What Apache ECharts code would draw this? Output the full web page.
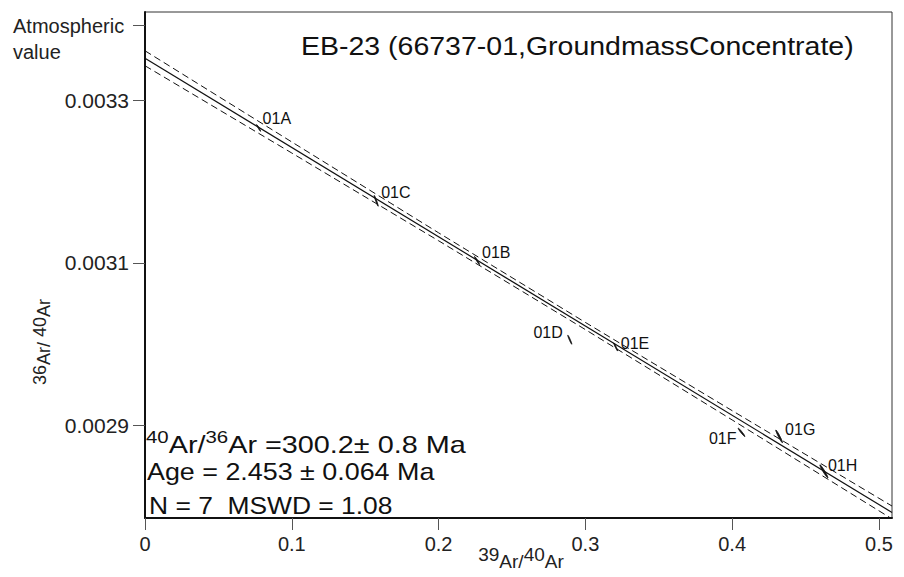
<!DOCTYPE html>
<html><head><meta charset="utf-8">
<script src="https://cdn.jsdelivr.net/npm/echarts@6/dist/echarts.min.js"></script>
<style>html,body{margin:0;padding:0;background:#fff}#c{width:904px;height:577px}</style>
</head><body><div id="c"></div>
<script>
// ---- data ----
const stepNames = ['01A','01C','01B','01D','01E','01F','01G','01H'];
const x39_40 = [0.0774, 0.1575, 0.2262, 0.2894, 0.3207, 0.4064, 0.4320, 0.4625];
const y36_40 = [0.0032658, 0.0031762, 0.0031028, 0.0030054, 0.0029964, 0.0028915, 0.0028866, 0.0028436];
const errX = [0.00136, 0.00136, 0.0017, 0.00136, 0.00136, 0.00228, 0.00228, 0.00273];
const errY = [0.0000041, 0.0000066, 0.0000049, 0.0000055, 0.0000049, 0.0000051, 0.0000078, 0.0000080];
const rho = [-0.97, -0.97, -0.97, -0.97, -0.97, -0.97, -0.97, -0.97];
const fitX = [0, 0.5089];
const fitY = [0.0033515, 0.0027930];
const envX = [0, 0.1, 0.2, 0.3, 0.4, 0.5089];
const envUpper = [0.0033607, 0.0032486, 0.0031369, 0.0030267, 0.0029182, 0.0028009];
const envLower = [0.0033423, 0.0032350, 0.0031271, 0.0030179, 0.0029068, 0.0027851];
const xTicks = [0, 0.1, 0.2, 0.3, 0.4, 0.5];
const yTicks = [0.0029, 0.0031, 0.0033];
const atmosphericValue = 0.0033915;
const xRange = [0, 0.5089];
const yRange = [0.0027862, 0.0034084];
const titleText = 'EB-23 (66737-01,GroundmassConcentrate)';

// ---- layout / style (not data) ----
const FONT = '"Liberation Sans", Arial, Helvetica, sans-serif';
const labelPlacement = [[4,-9,'left'],[5,-8,'left'],[5,-8,'left'],[-7,-7,'right'],[5,-4,'left'],[-5,6,'right'],[6,-7,'left'],[4,-6,'left']];

const chart = echarts.init(document.getElementById('c'), null, {renderer:'svg'});
const pts = x39_40.map((x,i)=>[x, y36_40[i]]);

const option = {
  animation:false,
  backgroundColor:'#fff',
  textStyle:{fontFamily:FONT},
  grid:{left:145, right:12, top:12, bottom:59, show:true, borderColor:'#333', borderWidth:1, backgroundColor:'transparent', outerBoundsMode:'none'},
  xAxis:{
    type:'value', min:xRange[0], max:xRange[1],
    splitLine:{show:false},
    axisLine:{show:true, lineStyle:{color:'#111', width:2}},
    axisTick:{show:true, customValues:xTicks, length:12, inside:false, lineStyle:{color:'#555', width:1}},
    axisLabel:{customValues:xTicks, margin:16, fontSize:20, color:'#222', fontFamily:FONT,
      formatter:v=> (Math.abs(v)<1e-12 ? '0' : String(+v.toFixed(1)))}
  },
  yAxis:{
    type:'value', min:yRange[0], max:yRange[1],
    splitLine:{show:false},
    axisLine:{show:true, lineStyle:{color:'#111', width:2}},
    axisTick:{show:true, customValues:yTicks.concat([atmosphericValue]), length:12, inside:false, lineStyle:{color:'#555', width:1}},
    axisLabel:{customValues:yTicks.concat([atmosphericValue]), margin:16, fontSize:21, color:'#222', fontFamily:FONT,
      formatter:v=> (Math.abs(v-atmosphericValue)<1e-9 ? '{atm| }\n{atm|Atmospheric}\n{atm|value}' : v.toFixed(4)),
      rich:{atm:{fontSize:20, lineHeight:26, width:116, align:'left', color:'#222', fontFamily:FONT}}}
  },
  series:[
    {type:'line', data:envX.map((x,i)=>[x, envUpper[i]]), symbol:'none', lineStyle:{color:'#111', width:1, type:[7,4]}, z:2},
    {type:'line', data:envX.map((x,i)=>[x, envLower[i]]), symbol:'none', lineStyle:{color:'#111', width:1, type:[7,4]}, z:2},
    {type:'line', data:fitX.map((x,i)=>[x, fitY[i]]), symbol:'none', lineStyle:{color:'#111', width:1.2}, z:3},
    {type:'custom', data:pts, z:5,
      renderItem:function(params, api){
        const i = params.dataIndex;
        const cx = api.value(0), cy = api.value(1);
        const ex = errX[i], ey = errY[i], r = rho[i];
        const poly = [];
        for (let k=0;k<48;k++){
          const t = k/48*2*Math.PI;
          poly.push(api.coord([cx + ex*Math.cos(t), cy + ey*(r*Math.cos(t) + Math.sqrt(1-r*r)*Math.sin(t))]));
        }
        const c = api.coord([cx, cy]);
        const lp = labelPlacement[i];
        return {type:'group', children:[
          {type:'polygon', shape:{points:poly}, style:{fill:'#111', stroke:'#111', lineWidth:1}},
          {type:'text', x:c[0]+lp[0], y:c[1]+lp[1], style:{text:stepNames[i], fontSize:16, fontFamily:FONT, fill:'#111', align:lp[2], verticalAlign:'middle'}}
        ]};
      }
    }
  ],
  graphic:[
    {type:'text', x:301, y:47, scaleX:1.14, style:{text:titleText, fontSize:25, fontFamily:FONT, fill:'#111', align:'left', verticalAlign:'middle'}},
    {type:'text', x:146, y:443, scaleX:1.2, style:{text:'{s|40}{b|Ar/}{s|36}{b|Ar =300.2± 0.8 Ma}', fill:'#111', align:'left', verticalAlign:'middle',
      rich:{s:{fontSize:17, fontFamily:FONT, lineHeight:16, verticalAlign:'top', fill:'#111'}, b:{fontSize:24, fontFamily:FONT, lineHeight:28, verticalAlign:'bottom', fill:'#111'}}}},
    {type:'text', x:147, y:472, scaleX:1.12, style:{text:'Age = 2.453 ± 0.064 Ma', fontSize:24, fontFamily:FONT, fill:'#111', align:'left', verticalAlign:'middle'}},
    {type:'text', x:149, y:505, scaleX:1.1, style:{text:'N = 7  MSWD = 1.08', fontSize:24, fontFamily:FONT, fill:'#111', align:'left', verticalAlign:'middle'}},
    {type:'text', x:521, y:558, style:{text:'{s|39}{b|Ar/}{s|40}{b|Ar}', align:'center', verticalAlign:'middle',
      rich:{s:{fontSize:19, fontFamily:FONT, lineHeight:16, verticalAlign:'top', fill:'#222'}, b:{fontSize:19, fontFamily:FONT, lineHeight:26, verticalAlign:'bottom', fill:'#222'}}}},
    {type:'text', x:42, y:342, rotation:Math.PI/2, style:{text:'{s|36}{b|Ar/ }{s|40}{b|Ar}', align:'center', verticalAlign:'middle',
      rich:{s:{fontSize:18, fontFamily:FONT, lineHeight:16, verticalAlign:'top', fill:'#222'}, b:{fontSize:18, fontFamily:FONT, lineHeight:22, verticalAlign:'bottom', fill:'#222'}}}}
  ]
};
chart.setOption(option);
</script>
</body></html>
